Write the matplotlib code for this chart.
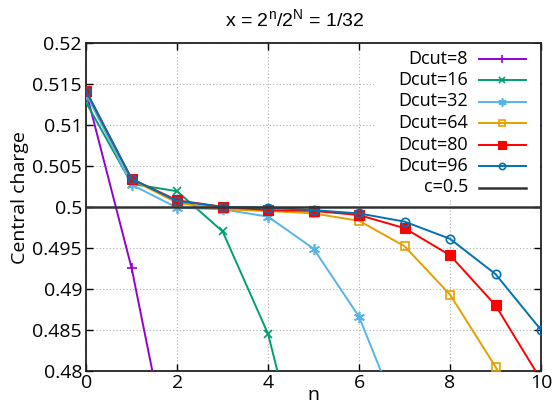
import matplotlib
matplotlib.use("Agg")
import matplotlib.pyplot as plt
from matplotlib.lines import Line2D
from matplotlib.patches import Rectangle

plt.rcParams['font.family'] = ['Open Sans', 'DejaVu Sans']

n_values = list(range(11))

dcut8 = [0.5140, 0.4925, 0.4650]
dcut16 = [0.5127, 0.5028, 0.5019, 0.4970, 0.4845, 0.4624]
dcut32 = [0.5138, 0.5027, 0.4999, 0.4997, 0.4988, 0.4949, 0.4866, 0.4728]
dcut64 = [0.5141, 0.5033, 0.5005, 0.4997, 0.4995, 0.4992, 0.4983, 0.4952,
          0.4893, 0.4805, 0.4700]
dcut80 = [0.5141, 0.5034, 0.5008, 0.5000, 0.4996, 0.4995, 0.4990, 0.4974,
          0.4941, 0.4880, 0.4789]
dcut96 = [0.5141, 0.5034, 0.5007, 0.5000, 0.4999, 0.4996, 0.4992, 0.4982,
          0.4961, 0.4918, 0.4850]
c_ref = 0.5

y_ticks = [0.48, 0.485, 0.49, 0.495, 0.5, 0.505, 0.51, 0.515, 0.52]
y_tick_labels = ["0.48", "0.485", "0.49", "0.495", "0.5", "0.505", "0.51", "0.515", "0.52"]

series = [
    ("Dcut=8", dcut8, "#9400d3", "+", dict(markersize=7, markeredgewidth=1.2)),
    ("Dcut=16", dcut16, "#009e73", "x", dict(markersize=6, markeredgewidth=1.2)),
    ("Dcut=32", dcut32, "#56b4e9", (6, 2, 0), dict(markersize=8, markeredgewidth=1.2)),
    ("Dcut=64", dcut64, "#e69f00", "s", dict(markersize=6, markerfacecolor="none", markeredgewidth=1.2)),
    ("Dcut=80", dcut80, "#ff0000", "s", dict(markersize=7, markeredgewidth=0.8)),
    ("Dcut=96", dcut96, "#0072b2", "o", dict(markersize=6, markerfacecolor="none", markeredgewidth=1.2)),
]

W, H = 556, 404
fig = plt.figure(figsize=(W / 100, H / 100), dpi=100)
ax = fig.add_axes([0.155, 0.082, 0.818, 0.812])

for label, vals, color, marker, mk in series:
    ax.plot(n_values[:len(vals)], vals, color=color, marker=marker,
            linewidth=1.4, zorder=3, **mk)

ax.axhline(c_ref, color="#333333", linewidth=1.8, zorder=4)

ax.set_xlim(0, 10)
ax.set_ylim(0.48, 0.52)
ax.set_xticks(range(0, 11, 2))
ax.set_yticks(y_ticks)
ax.set_yticklabels(y_tick_labels)
ax.tick_params(direction="in", top=True, right=True, length=5, width=1,
               labelsize=14, pad=3)
ax.tick_params(axis="x", pad=2)
ax.grid(True, color="#b0b0b0", linestyle=(0, (1, 2)), linewidth=0.8)
for s in ax.spines.values():
    s.set_linewidth(1.3)
    s.set_color("#222222")

fig.text(0.564, 0.0, "n", ha="center", va="bottom", fontsize=14)
fig.text(0.036, 0.51, "Central charge", ha="center", va="center",
         rotation=90, fontsize=14)
fig.text(0.529, 0.95, r"x = 2$^\mathregular{n}$/2$^\mathregular{N}$ = 1/32",
         ha="center", va="center", fontsize=14, family="Liberation Sans")

# key in the upper right corner: label right-aligned, sample line after it
pos = ax.get_position()
ax_l, ax_b = pos.x0 * W, (1 - pos.y0) * H
ax_w, ax_h = pos.width * W, pos.height * H


def to_axes(px, py):
    return (px - ax_l) / ax_w, (ax_b - py) / ax_h


kx0, ky0 = to_axes(374, 44)
kx1, ky1 = to_axes(540, 199)
ax.add_patch(Rectangle((kx0, ky1), kx1 - kx0, ky0 - ky1, transform=ax.transAxes,
                       facecolor="white", edgecolor="none", zorder=5))

key_rows = [(lab, col, mk, kw) for lab, _, col, mk, kw in series]
key_rows.append(("c=0.5", "#333333", None, {}))
row_y = [58.5, 80, 101.5, 123, 144.5, 166, 187.5]
for (lab, col, mk, kw), py in zip(key_rows, row_y):
    tx, ty = to_axes(468, py)
    ax.text(tx, ty, lab, transform=ax.transAxes, ha="right", va="center",
            fontsize=13, zorder=6)
    lx0, _ = to_axes(479, py)
    lx1, _ = to_axes(526, py)
    lw = 1.8 if mk is None else 1.4
    ax.add_line(Line2D([lx0, lx1], [ty, ty], color=col, linewidth=lw,
                       transform=ax.transAxes, zorder=6, clip_on=False))
    if mk is not None:
        small = dict(kw)
        small["markersize"] = kw["markersize"] * 0.75
        ax.add_line(Line2D([(lx0 + lx1) / 2], [ty], color=col, marker=mk,
                           linestyle="none", transform=ax.transAxes,
                           zorder=7, clip_on=False, **small))

fig.savefig("out.png", dpi=100)
